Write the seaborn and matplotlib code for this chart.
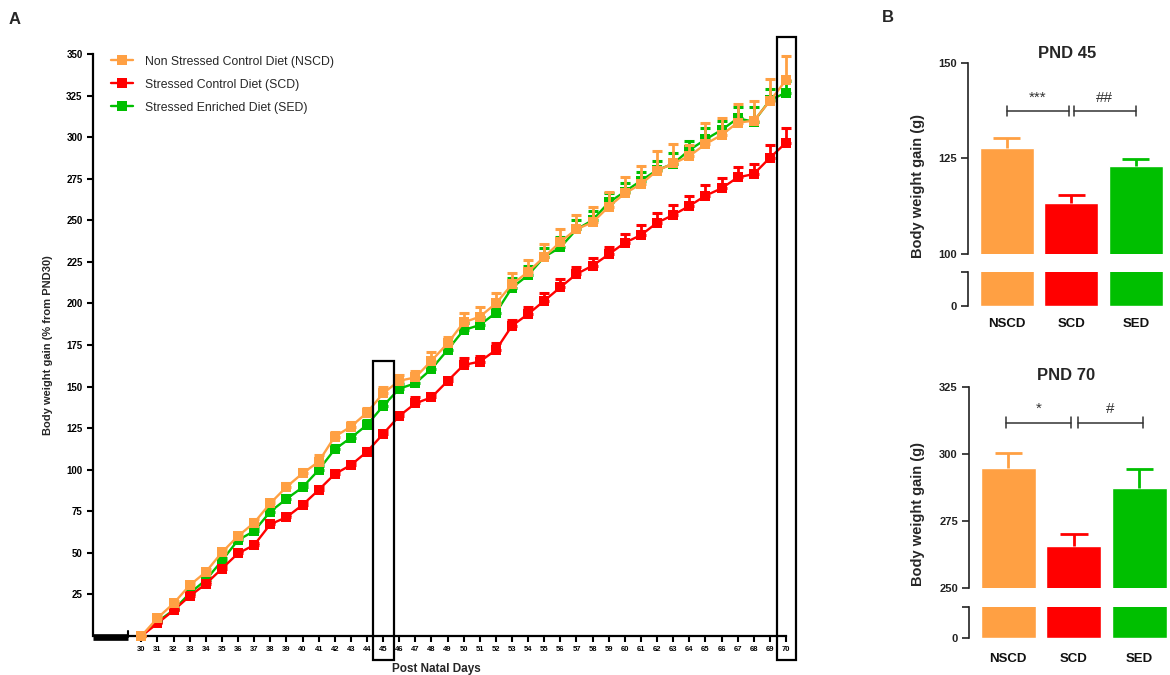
import numpy as np
import pandas as pd
import matplotlib
matplotlib.use("Agg")
import matplotlib.pyplot as plt
from matplotlib.patches import Rectangle
from matplotlib.lines import Line2D
import seaborn as sns

sns.set_theme(style="white")
plt.rcParams["font.family"] = ["Liberation Sans", "DejaVu Sans"]

# ---------------- data ----------------
days = list(range(30, 71))

nscd_mean = [0, 10.8, 19.6, 30.5, 38.5, 50.3, 60.1, 68.1, 79.8, 89.6,
             97.8, 104.8, 119.9, 125.9, 134.3, 145.9, 153.5, 155.5, 165.5, 176.0,
             188.6, 192.0, 200.0, 211.5, 219.0, 228.0, 237.0, 244.7, 248.7, 258.2,
             266.2, 271.8, 279.8, 284.2, 288.6, 295.8, 301.3, 308.7, 309.9, 321.7,
             334.3]
nscd_sem = [0, 1.5, 1.5, 1.8, 1.8, 2.0, 2.0, 2.0, 2.2, 2.2,
            2.5, 4.2, 2.5, 2.8, 3.0, 4.0, 3.5, 3.8, 5.0, 4.0,
            5.8, 6.0, 6.4, 7.0, 7.0, 8.0, 8.0, 8.3, 9.0, 9.0,
            9.6, 10.8, 12.0, 11.6, 6.6, 12.5, 10.0, 11.4, 11.8, 13.0,
            14.5]

scd_mean = [0, 7.6, 15.4, 24.0, 31.3, 40.5, 49.7, 54.7, 67.2, 71.4,
            78.8, 87.8, 97.4, 102.8, 110.8, 121.5, 132.3, 139.9, 143.5, 153.3,
            163.0, 165.0, 172.0, 186.6, 193.6, 201.6, 209.7, 217.7, 222.7, 229.5,
            236.5, 241.1, 248.5, 253.2, 258.6, 264.8, 269.2, 275.8, 277.8, 287.6,
            296.6]
scd_sem = [0, 1.0, 1.0, 1.2, 1.2, 1.4, 1.4, 1.5, 1.5, 1.6,
           1.6, 1.8, 1.8, 1.8, 2.0, 2.0, 2.0, 3.6, 2.0, 2.0,
           4.0, 3.4, 4.0, 3.4, 4.4, 4.4, 4.8, 4.3, 4.8, 4.5,
           5.5, 6.0, 5.7, 6.0, 6.0, 6.5, 6.0, 6.4, 6.2, 7.6,
           8.7]

sed_mean = [0, 8.6, 15.6, 25.7, 33.7, 45.3, 57.7, 63.1, 74.8, 82.4,
            89.4, 99.8, 112.3, 119.2, 126.9, 138.3, 148.7, 152.0, 160.6, 172.0,
            184.0, 187.0, 194.4, 209.5, 217.0, 228.0, 233.7, 244.5, 250.1, 260.7,
            267.2, 273.8, 280.2, 284.0, 292.2, 298.6, 304.3, 311.3, 309.3, 322.3,
            326.7]
sed_sem = [0, 1.2, 1.2, 1.5, 1.5, 1.8, 1.8, 2.0, 2.0, 2.2,
           2.2, 2.5, 2.5, 2.5, 2.8, 3.0, 3.0, 3.0, 3.5, 4.0,
           4.5, 5.0, 5.0, 5.5, 5.5, 5.5, 6.0, 5.5, 5.5, 5.5,
           5.5, 5.4, 5.4, 6.6, 5.6, 6.7, 5.4, 6.7, 8.7, 6.4,
           7.0]

groups = ["NSCD", "SCD", "SED"]
group_names = ["Non Stressed Control Diet (NSCD)",
               "Stressed Control Diet (SCD)",
               "Stressed Enriched Diet (SED)"]
palette = {"NSCD": "#FFA043", "SCD": "#FF0000", "SED": "#00BF00"}

pnd45_mean = [127.8, 113.4, 123.0]
pnd45_sem = [2.6, 1.9, 1.9]
pnd70_mean = [294.6, 265.8, 287.4]
pnd70_sem = [5.6, 4.5, 7.0]

# ---------------- figure ----------------
W, H = 1170, 675
fig = plt.figure(figsize=(W / 100, H / 100), dpi=100)


def box(x0, y0, x1, y1):
    """pixel box (left, top, right, bottom) -> figure rect"""
    return [x0 / W, 1 - y1 / H, (x1 - x0) / W, (y1 - y0) / H]


# ---------------- panel A: time course ----------------
ax = fig.add_axes(box(93, 54, 786, 636))

series = {"NSCD": (nscd_mean, nscd_sem),
          "SCD": (scd_mean, scd_sem),
          "SED": (sed_mean, sed_sem)}
long = pd.concat([pd.DataFrame({"day": days, "gain": m, "sem": s, "group": g})
                  for g, (m, s) in series.items()], ignore_index=True)

draw_order = ["SED", "SCD", "NSCD"]
for i, g in enumerate(draw_order):
    sub = long[long["group"] == g]
    z = 3 + 2 * i
    eb = ax.errorbar(sub["day"], sub["gain"],
                     yerr=[np.zeros(len(sub)), sub["sem"]],
                     fmt="none", ecolor=palette[g], elinewidth=2.0,
                     capsize=3.6, capthick=2.2, zorder=z)
    for art in eb.lines[1] + eb.lines[2]:
        art.set_clip_on(False)
    n_before = len(ax.lines)
    sns.lineplot(data=sub, x="day", y="gain", color=palette[g], marker="s",
                 markersize=7.5, markeredgewidth=0, linewidth=1.7,
                 ax=ax, zorder=z + 1, legend=False)
    for ln in ax.lines[n_before:]:
        ln.set_clip_on(False)

ax.set_xlim(27, 70)
ax.set_ylim(0, 350)
for side in ("top", "right"):
    ax.spines[side].set_visible(False)
for side in ("left", "bottom"):
    ax.spines[side].set_color("black")
    ax.spines[side].set_linewidth(1.6)
ax.spines["bottom"].set_bounds(29.15, 70)

ax.set_xticks(days)
ax.set_xticklabels([str(d) for d in days], fontsize=5.5, fontweight="bold")
ax.set_yticks(list(range(25, 351, 25)))
ax.set_yticklabels([str(v) for v in range(25, 351, 25)], fontsize=7, fontweight="bold")
ax.tick_params(axis="both", direction="out", length=4.5, width=1.5, colors="black",
               bottom=True, left=True)
ax.tick_params(axis="x", pad=3)
ax.tick_params(axis="y", pad=3)

# axis break segment at the origin
ax.plot([27, 29.15], [-0.8, -0.8], color="black", lw=4.8,
        solid_capstyle="butt", clip_on=False, zorder=10)
ax.plot([29.15, 29.15], [-0.8, 3.0], color="black", lw=1.5, clip_on=False, zorder=10)

ax.set_xlabel("Post Natal Days", fontsize=8.5, fontweight="bold")
ax.xaxis.set_label_coords(0.496, -0.047)
ax.set_ylabel("Body weight gain (% from PND30)", fontsize=8, fontweight="bold")
ax.yaxis.set_label_coords(-0.057, 0.5)

# highlighted days
ax.add_patch(Rectangle((44.37, -14.4), 1.3, 179.8, fill=False, lw=1.6,
                       edgecolor="black", clip_on=False, zorder=12))
ax.add_patch(Rectangle((69.45, -14.4), 1.17, 374.6, fill=False, lw=1.6,
                       edgecolor="black", clip_on=False, zorder=12))

handles = [Line2D([0], [0], color=palette[g], marker="s", markersize=7.5,
                  markeredgewidth=0, lw=1.7) for g in groups]
ax.legend(handles, group_names, loc="upper left", bbox_to_anchor=(0.026, 0.997),
          frameon=False, fontsize=8.8, handlelength=1.8, handletextpad=0.95,
          labelspacing=0.9, borderpad=0, borderaxespad=0)

fig.text(15 / W, 1 - 20 / H, "A", fontsize=12, fontweight="bold", ha="center", va="center")
fig.text(888 / W, 1 - 18 / H, "B", fontsize=12, fontweight="bold", ha="center", va="center")


# ---------------- panel B: bar charts with broken axis ----------------
def bar_panel(top_rect, bot_rect, means, sems, top_lim, top_ticks, bot_lim,
              title, title_xy, ylabel_xy, brackets, tick_pad):
    ax_t = fig.add_axes(box(*top_rect))
    ax_b = fig.add_axes(box(*bot_rect))
    frame = pd.DataFrame({"group": groups, "gain": means})
    for a in (ax_t, ax_b):
        sns.barplot(data=frame, x="group", y="gain", hue="group", palette=palette,
                    saturation=1, width=0.84, errorbar=None, legend=False, ax=a)
        a.set_xlim(-0.6, 2.5)
        for side in ("top", "right", "bottom"):
            a.spines[side].set_visible(False)
        a.spines["left"].set_color("#222222")
        a.spines["left"].set_linewidth(1.2)
        a.set_xlabel("")
        a.set_ylabel("")
        a.tick_params(axis="y", direction="out", length=5, width=1.2,
                      colors="#222222", left=True, pad=3)
    # upward-only SEM whiskers
    for i, g in enumerate(groups):
        top = means[i] + sems[i]
        ax_t.vlines(i, means[i], top, color=palette[g], lw=2.0, zorder=5)
        ax_t.hlines(top, i - 0.21, i + 0.21, color=palette[g], lw=2.0, zorder=5)
    ax_t.set_ylim(*top_lim)
    ax_t.set_yticks(top_ticks)
    ax_t.set_yticklabels([str(t) for t in top_ticks], fontsize=8, fontweight="bold")
    ax_t.set_xticks([])
    ax_b.set_ylim(*bot_lim)
    ax_b.set_yticks(list(bot_lim))
    ax_b.set_yticklabels(["0", ""], fontsize=8, fontweight="bold")
    ax_b.set_xticks(range(3))
    ax_b.set_xticklabels(groups, fontsize=9.5, fontweight="bold")
    ax_b.tick_params(axis="x", length=0, pad=tick_pad, colors="#111111")

    span = top_lim[1] - top_lim[0]
    for x0, x1, y, txt in brackets:
        h = span * 0.026
        ax_t.plot([x0, x1], [y, y], color="#333333", lw=1.1)
        ax_t.plot([x0, x0], [y - h, y + h], color="#333333", lw=1.1)
        ax_t.plot([x1, x1], [y - h, y + h], color="#333333", lw=1.1)
        ax_t.text((x0 + x1) / 2, y + span * 0.035, txt, ha="center", va="bottom",
                  fontsize=11, color="#333333")

    fig.text(title_xy[0] / W, 1 - title_xy[1] / H, title, fontsize=12,
             fontweight="bold", ha="center", va="center")
    fig.text(ylabel_xy[0] / W, 1 - ylabel_xy[1] / H, "Body weight gain (g)",
             fontsize=10.5, fontweight="bold", rotation=90, ha="center", va="center")


bar_panel((968, 62.7, 1168, 254), (968, 271.7, 1168, 305.7),
          pnd45_mean, pnd45_sem, (100, 150), [100, 125, 150], (0, 25),
          "PND 45", (1066.7, 54), (918, 186),
          [(0.0, 0.96, 137.3, "***"), (1.04, 2.0, 137.3, "##")], tick_pad=9)

bar_panel((969, 386.7, 1172, 588.3), (969, 606.7, 1172, 637.7),
          pnd70_mean, pnd70_sem, (250, 325), [250, 275, 300, 325], (0, 25),
          "PND 70", (1066, 375), (918, 514),
          [(-0.03, 0.95, 311.6, "*"), (1.06, 2.05, 311.6, "#")], tick_pad=11)

fig.savefig("out.png", dpi=100, facecolor="white")
